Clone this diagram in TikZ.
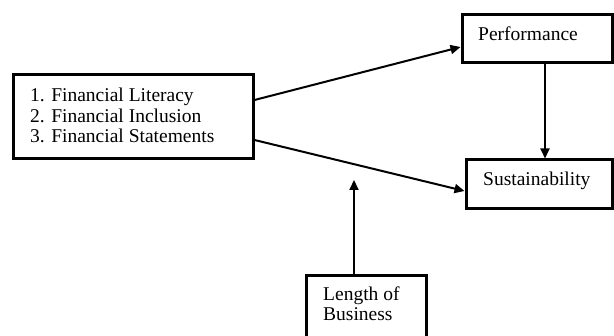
\documentclass[tikz,border=0pt]{standalone}
\usepackage{fontspec}
\setmainfont{Liberation Serif}
\usetikzlibrary{arrows.meta}
\begin{document}
\begin{tikzpicture}[x=1pt,y=-1pt,
  box/.style={draw=black, line width=3pt, inner sep=0pt},
  lbl/.style={anchor=base west, inner sep=0pt, font=\fontsize{19.5}{20.5}\selectfont, align=left},
  conn/.style={draw=black, line width=2pt, -{Triangle[length=10pt,width=9pt]}}]
\useasboundingbox (0,0) rectangle (614,336);
\clip (0,0) rectangle (614,336);
\fill[white] (0,0) rectangle (614,336);
% boxes
\node[box, minimum width=240pt, minimum height=84pt] (fin) at (133,117) {};
\node[box, minimum width=150pt, minimum height=48pt] (perf) at (537,39) {};
\node[box, minimum width=146pt, minimum height=49pt] (sust) at (539,184.5) {};
\node[box, minimum width=120pt, minimum height=70pt] (len) at (366,311) {};
% texts
\node[lbl] (t1) at (30,143) {1. Financial Literacy\\2. Financial Inclusion\\3. Financial Statements};
\node[lbl] (t2) at (478,41) {Performance};
\node[lbl] (t3) at (483,186) {Sustainability};
\node[lbl] (t4) at (323,321) {Length of\\Business};
% connectors
\coordinate (mod) at (354,180);
\draw[conn] ([yshift=17pt]fin.east) -- ([yshift=-8pt]perf.west);
\draw[conn] ([yshift=-23pt]fin.east) -- ([yshift=-6.5pt]sust.west);
\draw[conn] ([xshift=8pt]perf.south) -- ([xshift=6pt]sust.north);
\draw[conn] (len.north -| mod) -- (mod);
\end{tikzpicture}
\end{document}
